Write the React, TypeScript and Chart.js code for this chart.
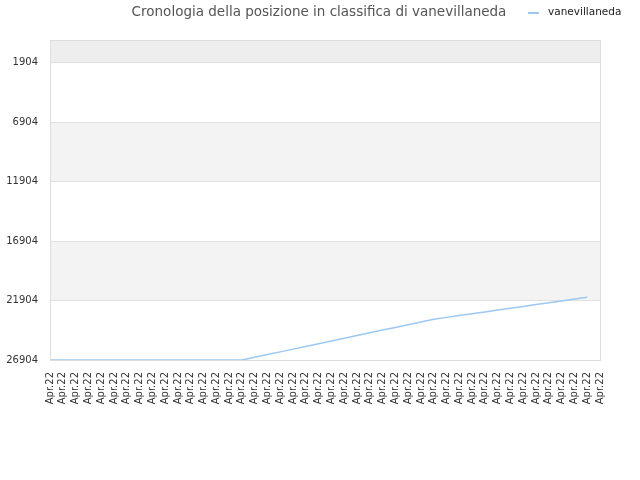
import { useEffect, useRef } from 'react';
import { Chart, registerables } from 'chart.js';

Chart.register(...registerables);

const chartTitle = 'Cronologia della posizione in classifica di vanevillaneda';
const playerName = 'vanevillaneda';

// every tick on the x axis reads the same month
const dates: string[] = Array(44).fill('Apr.22');

// rank per day (lower is better), last day has no value
const ranks: (number | null)[] = [
  26904, 26904, 26904, 26904, 26904, 26904, 26904, 26904,
  26904, 26904, 26904, 26904, 26904, 26904, 26904, 26904,
  26680, 26450, 26220, 25990, 25765, 25540, 25310, 25080,
  24850, 24620, 24390, 24165, 23940, 23710, 23480, 23320,
  23170, 23015, 22860, 22705, 22550, 22400, 22245, 22090,
  21935, 21785, 21630, null,
];

const yTicks = [1904, 6904, 11904, 16904, 21904, 26904];

const lineColor = '#9cc8f2';

const chromePlugin = {
  id: 'chrome',
  beforeDraw(chart: any) {
    const { ctx, chartArea, scales } = chart;
    const y = scales.y;
    ctx.save();
    ctx.fillStyle = '#ffffff';
    ctx.fillRect(0, 0, chart.width, chart.height);
    // alternating bands between the ticks
    const edges = [0, ...yTicks];
    for (let i = 0; i < edges.length - 1; i++) {
      const top = y.getPixelForValue(edges[i]);
      const bottom = y.getPixelForValue(edges[i + 1]);
      if (i === 0) ctx.fillStyle = '#eeeeee';
      else ctx.fillStyle = i % 2 === 0 ? '#f3f3f3' : '#ffffff';
      ctx.fillRect(chartArea.left, top, chartArea.right - chartArea.left, bottom - top);
    }
    ctx.restore();
  },
  afterDraw(chart: any) {
    const { ctx, chartArea } = chart;
    ctx.save();
    ctx.strokeStyle = '#dddddd';
    ctx.lineWidth = 1;
    ctx.strokeRect(chartArea.left + 0.5, chartArea.top + 0.5,
      chartArea.right - chartArea.left, chartArea.bottom - chartArea.top);

    ctx.textBaseline = 'middle';
    ctx.font = '13.5px "DejaVu Sans"';
    ctx.fillStyle = '#555555';
    ctx.textAlign = 'center';
    ctx.fillText(chartTitle, 319, 12);

    ctx.strokeStyle = lineColor;
    ctx.lineWidth = 2;
    ctx.beginPath();
    ctx.moveTo(528, 13);
    ctx.lineTo(539, 13);
    ctx.stroke();

    ctx.font = '10.5px "DejaVu Sans"';
    ctx.fillStyle = '#222222';
    ctx.textAlign = 'left';
    ctx.fillText(chart.data.datasets[0].label, 548, 12);
    ctx.restore();
  },
};

export default function App() {
  const canvasRef = useRef<HTMLCanvasElement>(null);

  useEffect(() => {
    document.body.style.margin = '0';
    if (!canvasRef.current) return;
    const chart = new Chart(canvasRef.current, {
      type: 'line',
      data: {
        labels: dates,
        datasets: [{
          label: playerName,
          data: ranks,
          borderColor: lineColor,
          borderWidth: 1.5,
          pointRadius: 0,
          tension: 0,
          fill: false,
        }],
      },
      options: {
        animation: false,
        responsive: false,
        layout: { padding: { top: 40, right: 40, left: 0, bottom: 0 } },
        plugins: {
          legend: { display: false },
          title: { display: false },
          tooltip: { enabled: false },
        },
        scales: {
          x: {
            type: 'category',
            offset: false,
            grid: { display: false, drawTicks: false },
            border: { display: false },
            ticks: {
              autoSkip: false,
              maxRotation: 90,
              minRotation: 90,
              padding: 12,
              color: '#333333',
              font: { family: 'DejaVu Sans', size: 10 },
            },
            afterFit: (scale: any) => { scale.height = 120; },
          },
          y: {
            reverse: true,
            min: 0,
            max: 26904,
            afterBuildTicks: (scale: any) => {
              scale.ticks = yTicks.map((v) => ({ value: v }));
            },
            grid: { color: '#e0e0e0', drawTicks: false },
            border: { display: false },
            ticks: {
              padding: 12,
              color: '#333333',
              font: { family: 'DejaVu Sans', size: 10 },
              callback: (value: any) => String(value),
            },
            afterFit: (scale: any) => { scale.width = 50; },
          },
        },
      },
      plugins: [chromePlugin],
    });
    return () => chart.destroy();
  }, []);

  return (
    <div style={{ width: 640, height: 480 }}>
      <canvas ref={canvasRef} width={640} height={480}></canvas>
    </div>
  );
}
